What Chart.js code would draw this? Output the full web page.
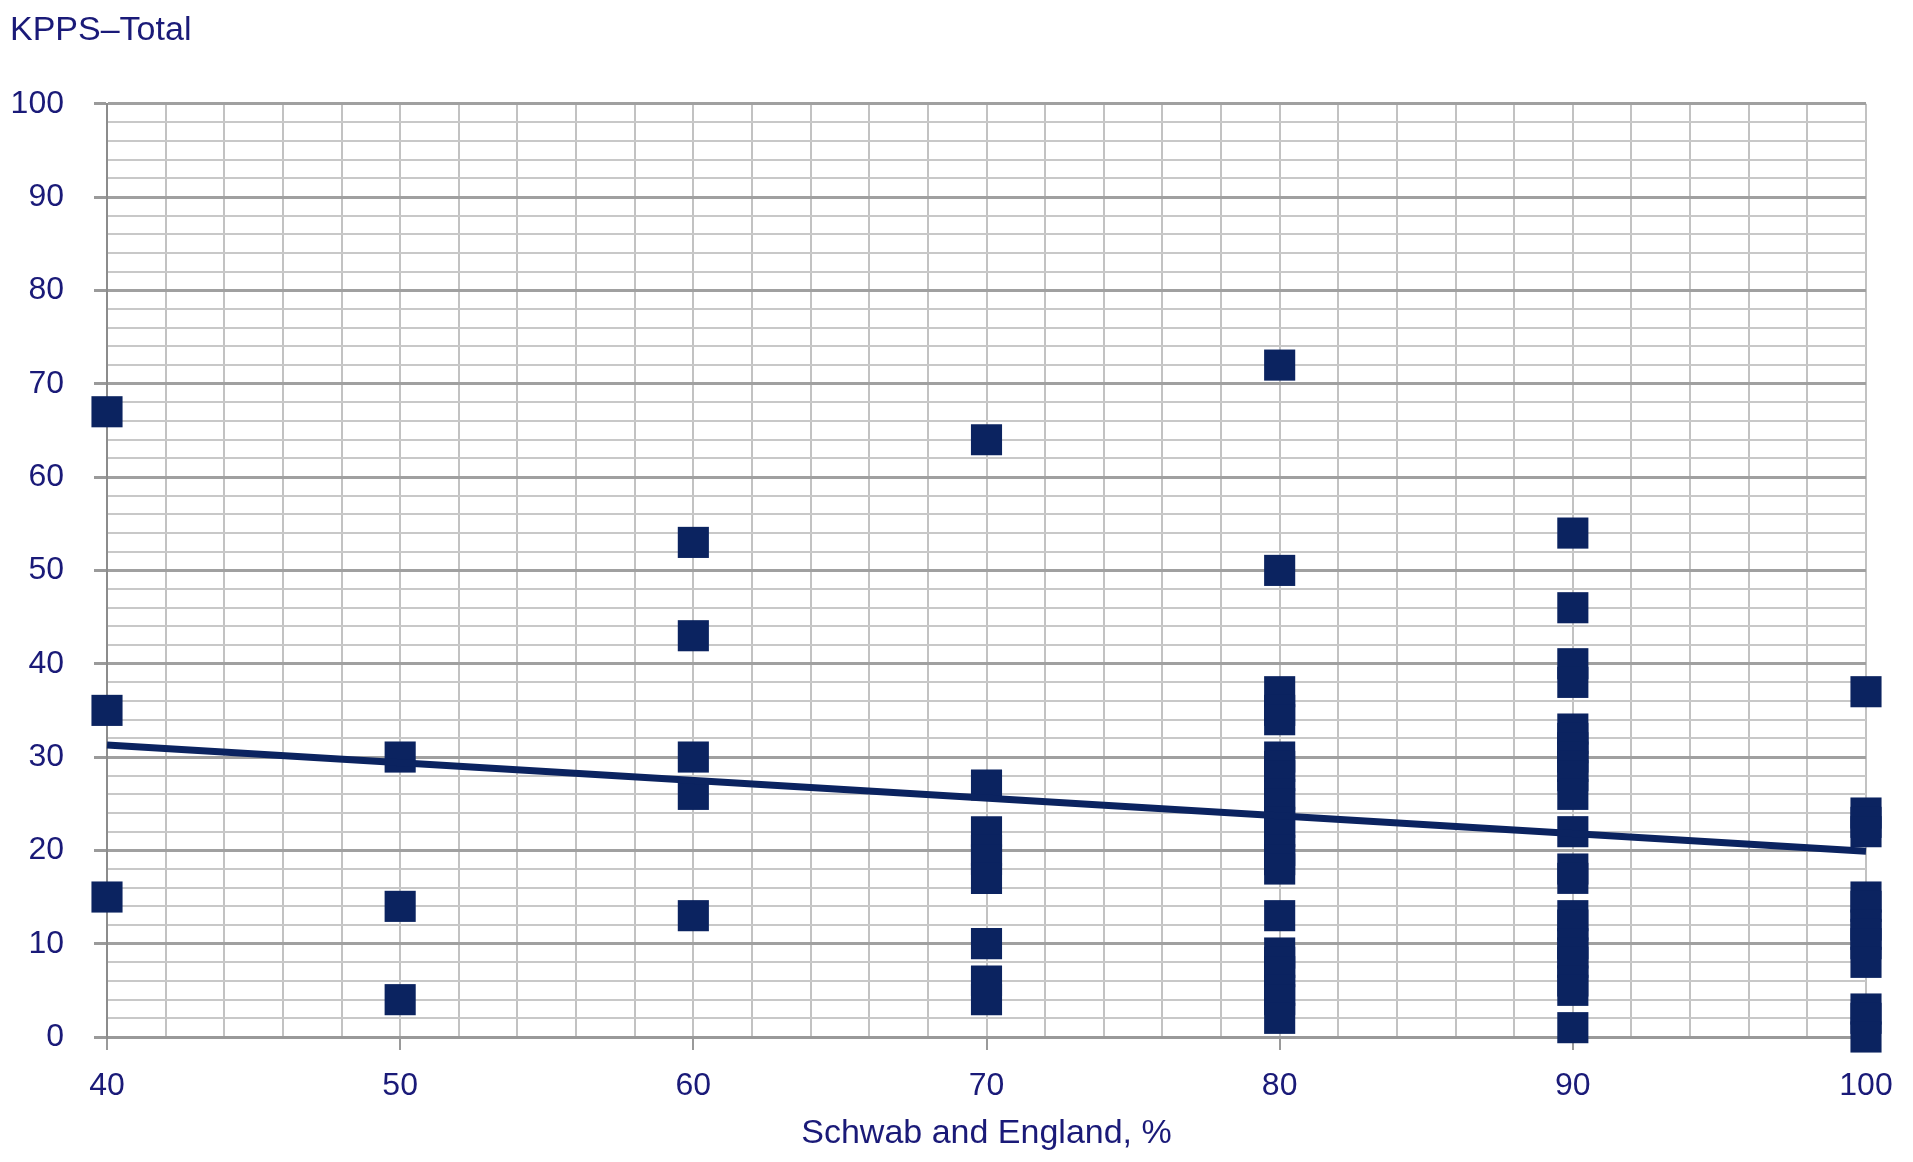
<!DOCTYPE html>
<html>
<head>
<meta charset="utf-8">
<script src="https://cdn.jsdelivr.net/npm/chart.js@4/dist/chart.umd.min.js"></script>
<style>
  body { margin: 0; background: #fff; }
</style>
</head>
<body>
<canvas id="kppsChart" width="1913" height="1162"></canvas>
<script>
"use strict";

// Schwab and England categories (x) and the KPPS-Total values
const schwabLevels = [40, 50, 60, 70, 80, 90, 100];
const kpps40 = [67, 35, 15];
const kpps50 = [30, 14, 4];
const kpps60 = [53, 43, 30, 26, 13];
const kpps70 = [64, 27, 22, 20, 19, 17, 10, 6, 4];
const kpps80 = [72, 50, 37, 35, 34, 30, 29, 28, 26, 25, 23, 22, 20, 19, 18, 13, 9, 8, 7, 5, 4, 2];
const kpps90 = [54, 46, 40, 38, 33, 32, 31, 30, 29, 28, 26, 22, 18, 17, 13, 12, 10, 9, 8, 6, 5, 1];
const kpps100 = [37, 24, 23, 22, 15, 14, 12, 11, 10, 8, 3, 2, 0];

// trend line end points
const trendX = [40, 100];
const trendY = [31.3, 19.9];

const navy = '#0b2360';
const textNavy = '#1a1a78';
const fontFamily = "'Liberation Sans', Arial, sans-serif";

const columns = [kpps40, kpps50, kpps60, kpps70, kpps80, kpps90, kpps100];
const points = [];
columns.forEach((vals, i) => {
    vals.forEach((v) => {
        points.push({ x: schwabLevels[i], y: v });
    });
});

const trendPoints = trendX.map((x, i) => ({ x: x, y: trendY[i] }));

const ctx = document.getElementById('kppsChart').getContext('2d');
const myChart = new Chart(ctx, {
    type: 'scatter',
    data: {
        datasets: [
            {
                label: 'trend',
                type: 'line',
                data: trendPoints,
                borderColor: navy,
                borderWidth: 7,
                pointRadius: 0,
                fill: false,
                clip: false,
                order: 0
            },
            {
                label: 'KPPS',
                data: points,
                pointStyle: 'rect',
                pointRadius: 22,
                pointHoverRadius: 22,
                backgroundColor: navy,
                borderColor: navy,
                borderWidth: 0,
                clip: false,
                order: 1
            }
        ]
    },
    options: {
        responsive: false,
        devicePixelRatio: 1,
        animation: false,
        layout: {
            padding: { left: 10, right: 47, top: 0, bottom: 0 }
        },
        plugins: {
            legend: { display: false },
            tooltip: { enabled: false },
            title: {
                display: true,
                text: 'KPPS\u2013Total',
                align: 'start',
                color: textNavy,
                font: { family: fontFamily, size: 34, weight: 'normal' },
                padding: { top: 10, bottom: 53 }
            }
        },
        scales: {
            x: {
                type: 'linear',
                min: 40,
                max: 100,
                afterFit: (s) => { s.height = 125; },
                ticks: {
                    stepSize: 2,
                    autoSkip: false,
                    maxRotation: 0,
                    padding: 17,
                    color: textNavy,
                    font: { family: fontFamily, size: 32 },
                    callback: (v) => (v % 10 === 0 ? v : '')
                },
                grid: {
                    color: '#c2c2c2',
                    lineWidth: 2,
                    tickLength: 13,
                    tickColor: (c) => (c.tick && c.tick.value % 10 === 0 ? '#9a9a9a' : 'rgba(0,0,0,0)')
                },
                border: { color: '#999999', width: 3 },
                title: {
                    display: true,
                    text: 'Schwab and England, %',
                    color: textNavy,
                    font: { family: fontFamily, size: 34 },
                    padding: { top: 0, bottom: 8 }
                }
            },
            y: {
                type: 'linear',
                min: 0,
                max: 100,
                afterFit: (s) => { s.width = 97; },
                ticks: {
                    stepSize: 2,
                    autoSkip: false,
                    padding: 30,
                    color: textNavy,
                    font: { family: fontFamily, size: 32 },
                    callback: (v) => (v % 10 === 0 ? v : '')
                },
                grid: {
                    color: (c) => (c.tick && c.tick.value % 10 === 0 ? '#a0a0a0' : '#c8c8c8'),
                    lineWidth: (c) => (c.tick && c.tick.value % 10 === 0 ? 3 : 2),
                    tickLength: 13,
                    tickColor: (c) => (c.tick && c.tick.value % 10 === 0 ? '#9a9a9a' : 'rgba(0,0,0,0)')
                },
                border: { color: '#8c8c8c', width: 2 }
            }
        }
    }
});
</script>
</body>
</html>
